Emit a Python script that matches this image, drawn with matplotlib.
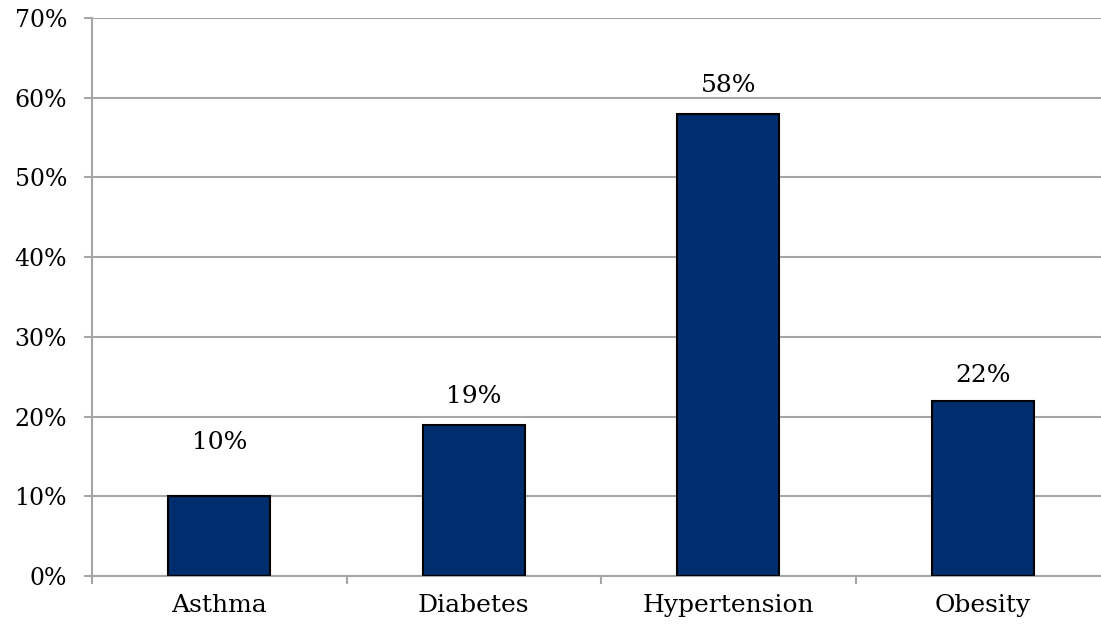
import matplotlib.pyplot as plt

categories = ["Asthma", "Diabetes", "Hypertension", "Obesity"]
values = [10, 19, 58, 22]
# Excel put the Asthma label higher than the others
label_offsets = [6.7, 3.5, 3.5, 3.2]
y_ticks = [0, 10, 20, 30, 40, 50, 60, 70]

plt.rcParams['font.family'] = ['DejaVu Serif']
FS = 18

fig = plt.figure(figsize=(11.01, 6.28), dpi=100)
ax = fig.add_axes([92 / 1101, 1 - 576 / 628, 1018 / 1101, 558 / 628])

x = list(range(len(categories)))
ax.bar(x, values, width=0.4, color='#002D6E', edgecolor='black', linewidth=1.5, zorder=3)

for xi, v, off in zip(x, values, label_offsets):
    ax.text(xi, v + off, f"{v}%", ha='center', va='center', fontsize=FS)

ax.set_xlim(-0.5, len(categories) - 0.5)
ax.set_ylim(0, 70)
ax.set_yticks(y_ticks)
ax.set_yticklabels([f"{t}%" for t in y_ticks], fontsize=17)
ax.set_xticks(x)
ax.set_xticklabels(categories, fontsize=FS)
ax.set_xticks([i - 0.5 for i in range(len(categories) + 1)], minor=True)

ax.yaxis.grid(True, color='#A6A6A6', linewidth=1.5, zorder=0)
ax.tick_params(axis='y', length=6, width=1.5, color='#A6A6A6', pad=12)
ax.tick_params(axis='x', which='major', length=0, pad=13)
ax.tick_params(axis='x', which='minor', length=6, width=1.5, color='#A6A6A6')

for s in ['top', 'right']:
    ax.spines[s].set_visible(False)
for s in ['left', 'bottom']:
    ax.spines[s].set_color('#A6A6A6')
    ax.spines[s].set_linewidth(1.5)

fig.savefig('out.png', dpi=100)
